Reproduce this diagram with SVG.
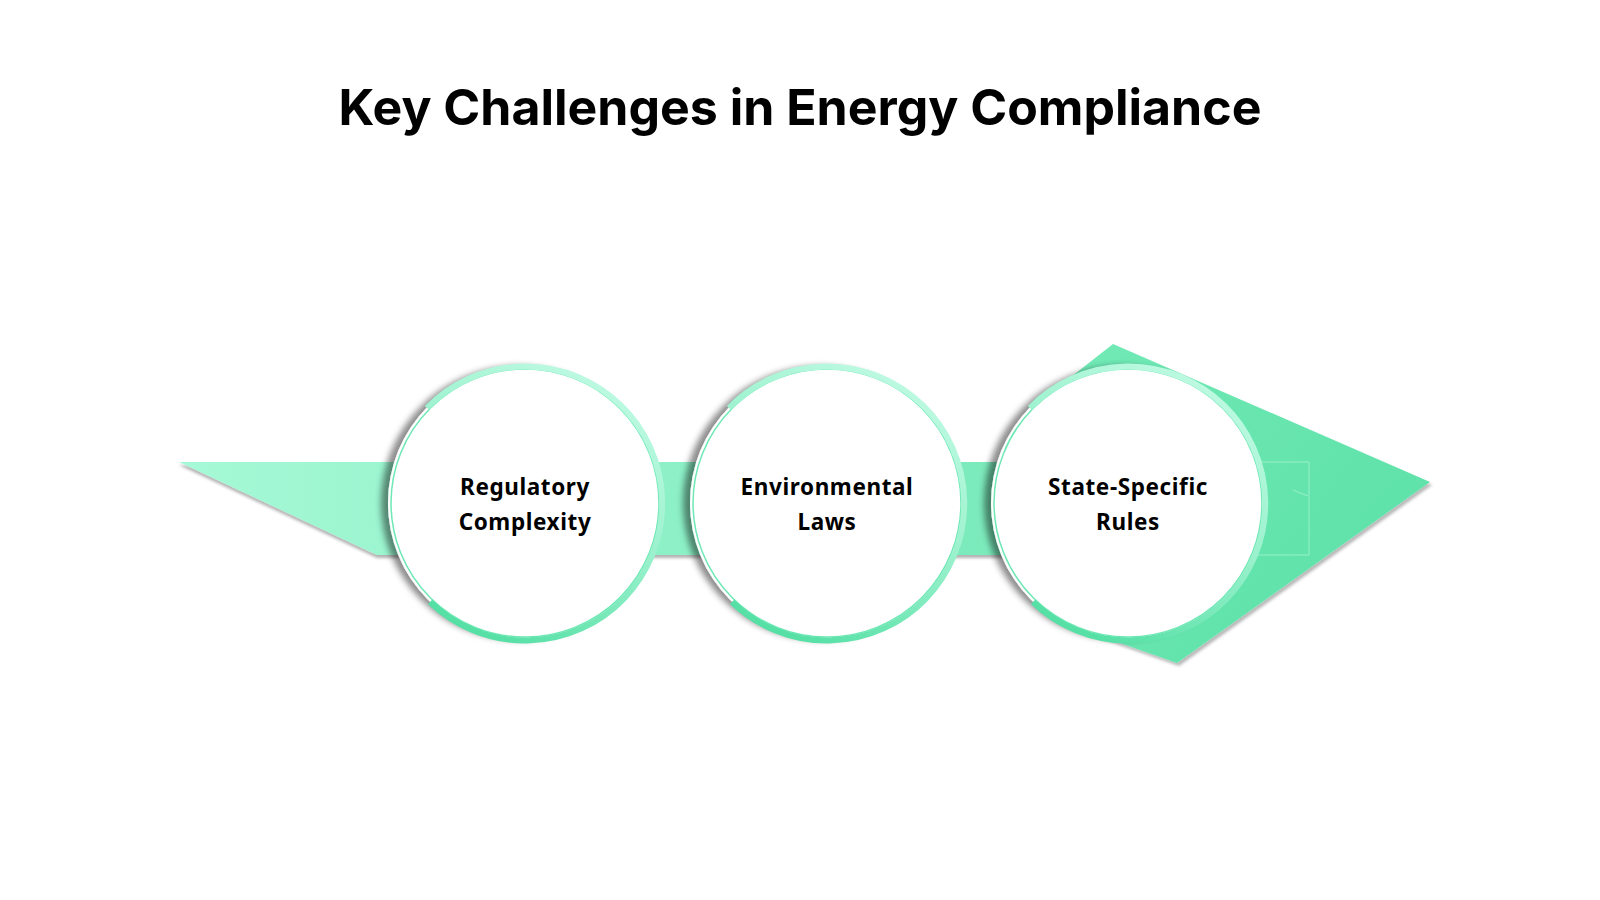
<svg xmlns="http://www.w3.org/2000/svg" width="1600" height="900" viewBox="0 0 1600 900">
  <defs>
    <linearGradient id="bandGrad" gradientUnits="userSpaceOnUse" x1="179" y1="0" x2="1430" y2="0">
      <stop offset="0" stop-color="#a6f9d6"/>
      <stop offset="0.5" stop-color="#86eec3"/>
      <stop offset="1" stop-color="#5fe1a8"/>
    </linearGradient>
    <linearGradient id="arrowGrad" gradientUnits="userSpaceOnUse" x1="1030" y1="344" x2="1430" y2="663">
      <stop offset="0" stop-color="#72eab7"/>
      <stop offset="1" stop-color="#5be0a6"/>
    </linearGradient>
    <linearGradient id="ringGrad" x1="0.8" y1="0" x2="0.3" y2="1">
      <stop offset="0" stop-color="#c2fbe5"/>
      <stop offset="0.5" stop-color="#99f1cc"/>
      <stop offset="1" stop-color="#56e0a6"/>
    </linearGradient>
    <filter id="shadowDown" x="-10%" y="-20%" width="120%" height="150%">
      <feDropShadow dx="0" dy="3" stdDeviation="1.5" flood-color="#000" flood-opacity="0.3"/>
    </filter>
    <filter id="shadowRight" x="-10%" y="-10%" width="125%" height="125%">
      <feDropShadow dx="2" dy="3" stdDeviation="1.5" flood-color="#000" flood-opacity="0.28"/>
    </filter>
    <filter id="shadowLeft" x="-20%" y="-20%" width="140%" height="140%">
      <feDropShadow dx="-7" dy="0" stdDeviation="3" flood-color="#000" flood-opacity="0.45"/>
    </filter>
  </defs>
  <style>
    .title { font-family: Inter, "Liberation Sans", sans-serif; font-weight: 700; font-size: 50px; fill: #000; }
    .label { font-family: "Noto Sans", "Liberation Sans", sans-serif; font-weight: 700; font-size: 22.5px; letter-spacing: 0.6px; fill: #000; }
    .disc { fill: #fff; }
    .edge { fill: none; stroke: #6fe8b5; stroke-width: 1.5; }
    .ring { fill: none; stroke: url(#ringGrad); stroke-width: 6; stroke-linecap: butt; }
  </style>
  <rect width="1600" height="900" fill="#fff"/>

  <text class="title" x="800" y="125" text-anchor="middle">Key Challenges in Energy Compliance</text>

  <g id="connectors">
    <polygon id="band" points="179,462 1300,462 1300,555 377,555" fill="url(#bandGrad)" filter="url(#shadowDown)"/>
    <polygon id="arrowhead" points="1113,344 1430,482 1177,663 1100,636 1040,503 1062,384" fill="url(#arrowGrad)" filter="url(#shadowRight)"/>
    <g fill="none" stroke="#a8f3d2" stroke-width="1" opacity="0.8">
      <polyline points="1240,462 1309,462 1309,555 1240,555"/>
      <line x1="1293" y1="490" x2="1308" y2="496"/>
    </g>
  </g>

  <g id="node-regulatory">
    <circle class="disc" cx="525" cy="503" r="137" filter="url(#shadowLeft)"/>
    <circle class="edge" cx="525" cy="503" r="134"/>
    <path class="ring" d="M 430,602 A 137 137 0 1 0 427,408"/>
    <text class="label" text-anchor="middle"><tspan x="525" y="495">Regulatory</tspan><tspan x="525" y="530">Complexity</tspan></text>
  </g>

  <g id="node-environmental">
    <circle class="disc" cx="827" cy="503" r="137" filter="url(#shadowLeft)"/>
    <circle class="edge" cx="827" cy="503" r="134"/>
    <path class="ring" d="M 732,602 A 137 137 0 1 0 729,408"/>
    <text class="label" text-anchor="middle"><tspan x="827" y="495">Environmental</tspan><tspan x="827" y="530">Laws</tspan></text>
  </g>

  <g id="node-state">
    <circle class="disc" cx="1128" cy="503" r="137" filter="url(#shadowLeft)"/>
    <circle class="edge" cx="1128" cy="503" r="134"/>
    <path class="ring" d="M 1033,602 A 137 137 0 1 0 1030,408"/>
    <text class="label" text-anchor="middle"><tspan x="1128" y="495">State-Specific</tspan><tspan x="1128" y="530">Rules</tspan></text>
  </g>
</svg>
